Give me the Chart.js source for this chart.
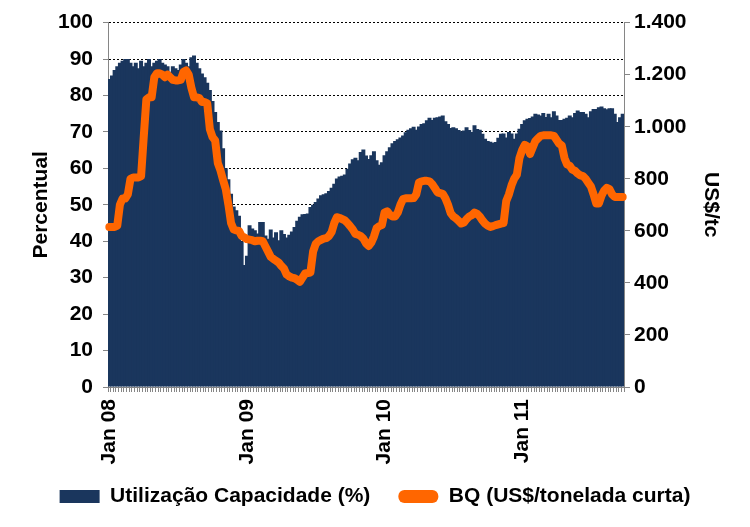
<!DOCTYPE html>
<html>
<head>
<meta charset="utf-8">
<script src="https://cdn.jsdelivr.net/npm/chart.js@4/dist/chart.umd.min.js"></script>
<style>
  html, body { margin: 0; padding: 0; background: #fff; }
  #wrap { width: 750px; height: 527px; }
</style>
</head>
<body>
<div id="wrap"><canvas id="chart" width="750" height="527"></canvas></div>
<script>
// weekly series, Jan 2008 .. Sep 2011 (195 weeks)
const tickIdx = [0, 52, 104, 156];
const tickText = ["Jan 08", "Jan 09", "Jan 10", "Jan 11"];

const utilizacao = [
  84.5,85.5,87,88,89,89.5,90,90,89,88,
  89,87.5,89.5,88,89,90,88,89,89.5,90,
  89,88.5,88,86.5,88,87.5,87,88.5,90,89,
  88,90.5,91,89,87.5,86,85,83.5,81.5,78.5,
  75.5,72.7,70.4,65.5,60,57,53,49.5,48.5,47,
  40,33.5,36,44.4,43.5,43,42.1,45.3,45.3,41.6,
  40.7,43.2,41,42.5,40.3,43,42,41,41.8,42.7,
  43.9,45.6,46.7,47.4,47.5,47.6,49.4,50,50.8,51.7,
  52.6,52.9,53.2,53.8,54.7,55.8,57.2,57.8,58,58.3,
  59.9,61.3,62.5,62.9,62.2,64.5,65.2,63.5,62.6,63.6,
  64.7,62.2,61,61.7,63.6,64.7,65.8,66.9,67.5,68,
  68.5,69,69.9,70.6,71,71.4,70.6,71.5,72.2,72.4,
  73.2,73.9,73.3,73.9,74,74.2,74.5,72.9,72.2,71.1,
  71.3,71,70.5,70.2,70.4,71.3,70.5,70,71.8,70.8,
  70.6,69.5,68.1,67.5,67.3,67,67.2,68.4,69.5,69.6,
  68.5,70,69.6,68.1,69.6,70.9,72.2,73.2,73.6,73.8,
  74.2,75,74.8,74.5,75.2,74.1,75,74,75.7,74.5,
  73.3,73.3,73.6,73.9,74.5,74,75.2,75.9,75.5,75.5,
  75,74,75.7,76.3,76.3,76.8,77,76.5,76.2,76.5,
  76.5,75,72.7,74,75
];

const bq = [
  615,615,615,620,700,724,724,740,800,805,
  805,805,810,960,1105,1113,1113,1190,1205,1205,
  1200,1190,1200,1190,1180,1178,1178,1180,1210,1216,
  1200,1150,1113,1113,1110,1095,1095,1090,990,960,
  947,860,832,795,760,700,630,605,602,600,
  580,575,568,566,564,560,562,562,560,540,
  520,500,492,485,478,465,455,432,425,420,
  418,412,404,420,436,438,440,520,550,560,
  565,570,572,580,595,630,652,650,645,640,
  630,618,605,588,585,580,570,552,542,555,
  578,610,618,622,670,675,662,655,655,670,
  700,722,725,725,725,726,740,785,790,792,
  792,790,780,765,748,745,742,725,700,668,
  655,648,638,628,632,645,655,660,670,665,
  655,640,628,620,615,618,622,625,628,630,
  715,740,775,800,815,880,910,930,925,895,
  920,945,955,965,967,967,967,967,965,950,
  935,928,880,855,850,835,830,820,813,810,
  800,785,770,740,705,705,735,755,765,760,
  740,730,730,730,730
];

const weeks = utilizacao.map((v, i) => i);

function weekLabel(i) {
  const k = tickIdx.indexOf(i);
  return k >= 0 ? tickText[k] : "";
}

function fmtThousands(v) {
  if (v >= 1000) return Math.floor(v / 1000) + "." + String(v % 1000).padStart(3, "0");
  return String(v);
}

Chart.defaults.font.family = '"Liberation Sans", Arial, sans-serif';
Chart.defaults.font.size = 21;
Chart.defaults.font.weight = "bold";
Chart.defaults.color = "#000";

const axisGray = "#868686";

new Chart(document.getElementById("chart"), {
  data: {
    labels: weeks,
    datasets: [
      {
        type: "bar",
        label: "Utilização Capacidade (%)",
        data: utilizacao,
        backgroundColor: "#1a365d",
        borderWidth: 0,
        barPercentage: 1.5,
        categoryPercentage: 1,
        yAxisID: "y",
        order: 1
      },
      {
        type: "line",
        label: "BQ (US$/tonelada curta)",
        data: bq,
        borderColor: "#ff6600",
        backgroundColor: "#ff6600",
        borderWidth: 8,
        pointRadius: 0,
        tension: 0,
        borderJoinStyle: "round",
        borderCapStyle: "round",
        yAxisID: "y1",
        order: 0
      }
    ]
  },
  options: {
    responsive: false,
    animation: false,
    devicePixelRatio: 1,
    layout: { padding: { top: 22, left: 0, right: 0, bottom: 10 } },
    plugins: {
      tooltip: { enabled: false },
      legend: {
        position: "bottom",
        labels: {
          boxWidth: 40,
          boxHeight: 13,
          padding: 28,
          sort: (a, b) => a.datasetIndex - b.datasetIndex,
          generateLabels(chart) {
            const items = Chart.defaults.plugins.legend.labels.generateLabels(chart);
            items.forEach(it => {
              it.lineWidth = 0;
              it.borderRadius = it.datasetIndex === 1 ? 6 : 0;
            });
            return items;
          }
        }
      }
    },
    scales: {
      x: {
        offset: true,
        grid: {
          display: true,
          offset: true,
          drawOnChartArea: false,
          drawTicks: true,
          tickLength: 5,
          tickColor: axisGray
        },
        border: { color: axisGray },
        ticks: {
          autoSkip: false,
          minRotation: 90,
          maxRotation: 90,
          padding: 7,
          callback: (v, i) => weekLabel(i)
        },
        afterFit(s) {
          const lg = s.chart.legend ? s.chart.legend.height : 0;
          s.height = 527 - 387 - lg - 10;
          // labels may reach into the legend band; don't clip them
          s._computeLabelArea = () => null;
        }
      },
      y: {
        position: "left",
        min: 0,
        max: 100,
        ticks: { stepSize: 10, padding: 10 },
        grid: { color: "#000", tickColor: axisGray, tickLength: 5, tickBorderDash: [] },
        border: { color: axisGray, dash: [2, 2] },
        title: { display: true, text: "Percentual", padding: { top: 29, bottom: 0 } },
        afterFit(s) { s.width = 108; }
      },
      y1: {
        position: "right",
        min: 0,
        max: 1400,
        ticks: { stepSize: 200, padding: 4, callback: v => fmtThousands(v) },
        grid: { drawOnChartArea: false, tickColor: axisGray, tickLength: 6 },
        border: { color: axisGray },
        title: { display: true, text: "US$/tc", padding: { top: 27, bottom: 0 } },
        afterFit(s) { s.width = 126; }
      }
    }
  }
});
</script>
</body>
</html>
